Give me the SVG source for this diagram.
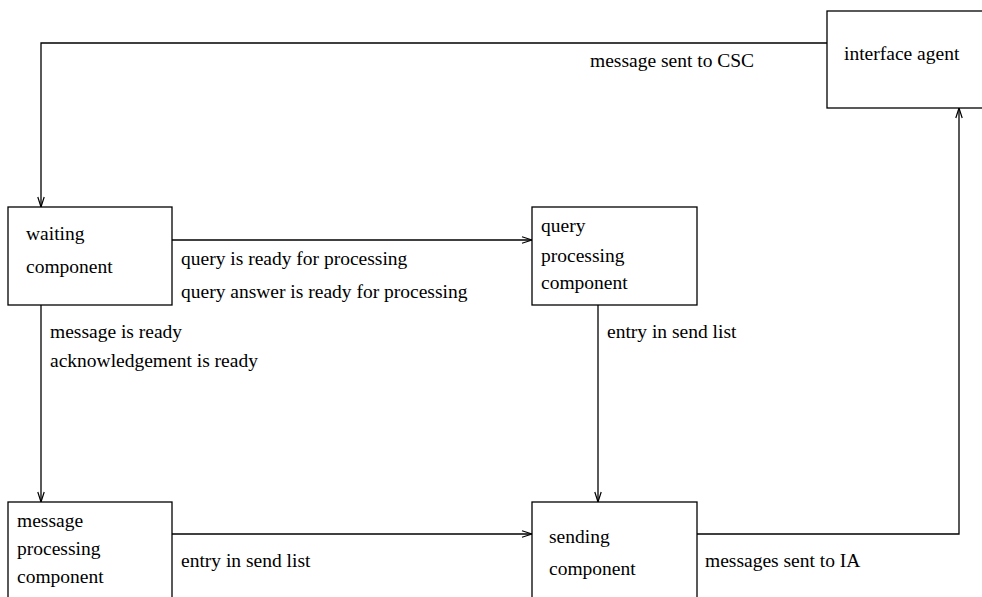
<svg xmlns="http://www.w3.org/2000/svg" width="982" height="597" viewBox="0 0 982 597">
  <style>
    .box { fill: #ffffff; stroke: #000000; stroke-width: 1.3; }
    .wire { fill: none; stroke: #000000; stroke-width: 1.3; }
    text { font-family: "Liberation Serif", "Times New Roman", serif; font-size: 19.5px; fill: #000000; }
  </style>
  <defs>
    <marker id="head" markerWidth="12" markerHeight="8" refX="11" refY="4" orient="auto" markerUnits="userSpaceOnUse">
      <path d="M1,0.8 L11,4 L1,7.2" fill="none" stroke="#000000" stroke-width="1.2"/>
    </marker>
  </defs>
  <rect width="982" height="597" fill="#ffffff"/>

  <g id="connectors">
    <path class="wire" d="M827,43 H41 V207" marker-end="url(#head)"/>
    <path class="wire" d="M172,240 H532" marker-end="url(#head)"/>
    <path class="wire" d="M41,305 V502" marker-end="url(#head)"/>
    <path class="wire" d="M598,305 V502" marker-end="url(#head)"/>
    <path class="wire" d="M172,534 H532" marker-end="url(#head)"/>
    <path class="wire" d="M697,534 H959 V108" marker-end="url(#head)"/>
    <text x="590" y="67">message sent to CSC</text>
    <text x="181" y="265">query is ready for processing</text>
    <text x="181" y="298">query answer is ready for processing</text>
    <text x="50" y="338">message is ready</text>
    <text x="50" y="367">acknowledgement is ready</text>
    <text x="607" y="338">entry in send list</text>
    <text x="181" y="567">entry in send list</text>
    <text x="705" y="567">messages sent to IA</text>
  </g>

  <g id="interface-agent">
    <rect class="box" x="827" y="11" width="170" height="97"/>
    <text x="844" y="60">interface agent</text>
  </g>

  <g id="waiting-component">
    <rect class="box" x="8" y="207" width="164" height="98"/>
    <text x="26" y="240">waiting</text>
    <text x="26" y="273">component</text>
  </g>

  <g id="query-processing-component">
    <rect class="box" x="532" y="207" width="165" height="98"/>
    <text x="541" y="232">query</text>
    <text x="541" y="262">processing</text>
    <text x="541" y="289">component</text>
  </g>

  <g id="message-processing-component">
    <rect class="box" x="8" y="502" width="164" height="110"/>
    <text x="17" y="527">message</text>
    <text x="17" y="555">processing</text>
    <text x="17" y="583">component</text>
  </g>

  <g id="sending-component">
    <rect class="box" x="532" y="502" width="165" height="110"/>
    <text x="549" y="543">sending</text>
    <text x="549" y="575">component</text>
  </g>
</svg>
